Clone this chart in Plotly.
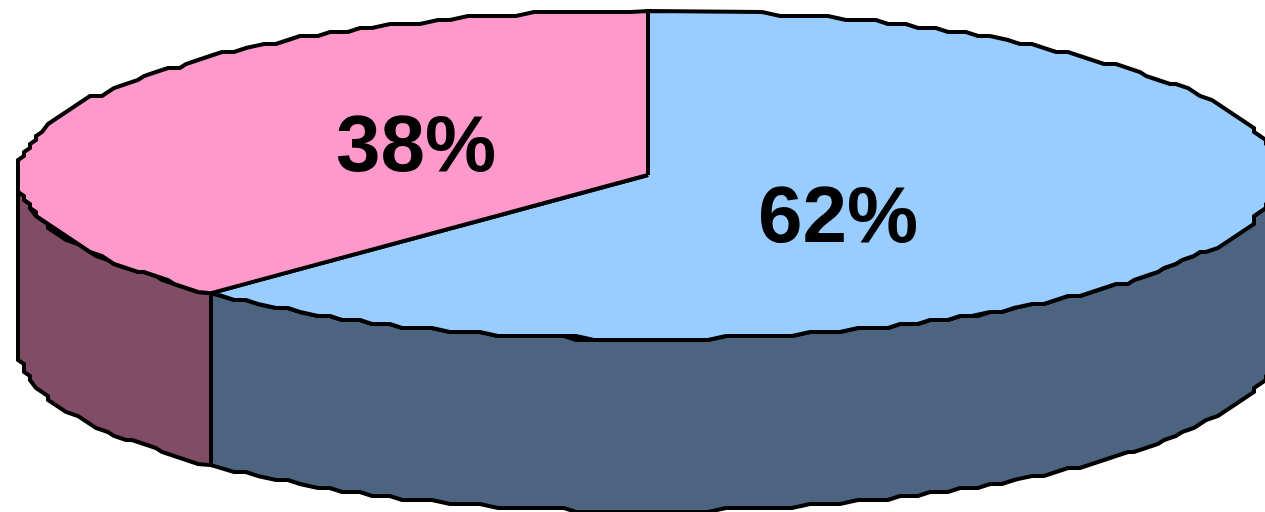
import numpy as np
import plotly.graph_objects as go

labels = ["Pink", "Blue"]
values = [37.8, 62.2]
text_labels = ["38%", "62%"]
top_colors = ["#FF99CC", "#99CCFF"]
side_colors = ["#804C66", "#4C6480"]

W, H = 1265, 512
cx, cy, rx, ry, depth = 648, 175, 630, 164, 172
X_STEP, Y_STEP = 6.0, 4.0
DEG_PER_POINT = 1.5


def rim(a0, a1):
    """Rim of the disc between two clockwise-from-top angles, in degrees.
    Sampled coarsely and snapped to a grid for the wobbly outline of the original."""
    n = max(2, int(abs(a1 - a0) / DEG_PER_POINT) + 1)
    t = np.radians(np.linspace(a0, a1, n))
    x = cx + rx * np.sin(t)
    y = cy - ry * np.cos(t)
    xs = np.round(x / X_STEP) * X_STEP
    ys = np.round(y / Y_STEP) * Y_STEP
    # keep the exact end points so that slices and walls meet
    xs[0], ys[0], xs[-1], ys[-1] = x[0], y[0], x[-1], y[-1]
    return xs, ys


fig = go.Figure()

# slices run counter-clockwise from 12 o'clock: pink first, then blue
a_pink_end = 360 - values[0] / sum(values) * 360
spans = [(360, a_pink_end), (a_pink_end, 0)]
walls = [(a_pink_end, 270), (90, a_pink_end)]

for i in [0, 1]:
    x, y = rim(*walls[i])
    fig.add_trace(go.Scatter(
        x=np.r_[x, x[::-1], x[0]], y=np.r_[y, y[::-1] + depth, y[0]],
        mode="lines", fill="toself", fillcolor=side_colors[i],
        line=dict(color="#000000", width=4), hoverinfo="skip", showlegend=False))

for i in [1, 0]:
    x, y = rim(*spans[i])
    fig.add_trace(go.Scatter(
        x=np.r_[cx, x, cx], y=np.r_[cy, y, cy],
        mode="lines", fill="toself", fillcolor=top_colors[i],
        line=dict(color="#000000", width=4), hoverinfo="skip", showlegend=False))

label_x = [416, 838]
label_y = [151, 222]
fig.add_trace(go.Scatter(
    x=label_x, y=label_y, mode="text", text=text_labels,
    textfont=dict(family="Liberation Sans", size=80, color="#000000"),
    texttemplate="<b>%{text}</b>", textposition="middle center",
    hoverinfo="skip", showlegend=False))

fig.update_layout(
    width=W, height=H, margin=dict(l=0, r=0, t=0, b=0),
    paper_bgcolor="#FFFFFF", plot_bgcolor="#FFFFFF", showlegend=False,
    xaxis=dict(range=[0, W], visible=False, fixedrange=True),
    yaxis=dict(range=[H, 0], visible=False, fixedrange=True),
)
fig.write_html("out.html", config={"displayModeBar": False},
               post_script="document.body.style.margin='0';document.documentElement.style.overflow='hidden';")
